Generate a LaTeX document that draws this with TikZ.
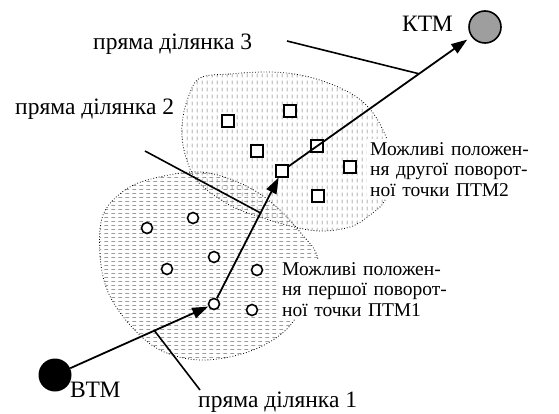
\documentclass[tikz,border=0pt]{standalone}
\usepackage{fontspec}
\setmainfont{Liberation Serif}
\usetikzlibrary{arrows.meta,positioning,patterns}

% short grey dashes for the two areas
\pgfdeclarepatternformonly{hdash}{\pgfqpoint{0pt}{0pt}}{\pgfqpoint{6.5pt}{4.3pt}}{\pgfqpoint{6.5pt}{4.3pt}}{%
  \pgfsetlinewidth{0.6pt}
  \pgfpathmoveto{\pgfqpoint{0.5pt}{2pt}}\pgfpathlineto{\pgfqpoint{4.5pt}{2pt}}
  \pgfusepath{stroke}}
\pgfdeclarepatternformonly{vdash}{\pgfqpoint{0pt}{0pt}}{\pgfqpoint{5pt}{6.5pt}}{\pgfqpoint{5pt}{6.5pt}}{%
  \pgfsetlinewidth{0.6pt}
  \pgfpathmoveto{\pgfqpoint{2.5pt}{0.8pt}}\pgfpathlineto{\pgfqpoint{2.5pt}{4.8pt}}
  \pgfusepath{stroke}}

\newcommand\jline[1]{\makebox[\linewidth][s]{#1}}

\begin{document}
\begin{tikzpicture}[x=1pt,y=-1pt,
    font=\fontsize{23.5}{25}\selectfont,
    area/.style={dotted,line width=0.8pt,pattern color=black!60},
    pt/.style={circle,draw,fill=white,line width=1.6pt,minimum size=11pt,inner sep=0pt},
    sq/.style={rectangle,draw,fill=white,line width=1.6pt,minimum size=11.5pt,inner sep=0pt},
    leg/.style={line width=1.8pt,-{Triangle[length=16pt,width=11pt]}},
    ptr/.style={line width=1.6pt},
    note/.style={fill=white,text width=187pt,inner sep=3pt,align=left,
      font=\fontsize{19.5}{20.5}\selectfont}]
  \useasboundingbox (0,0) rectangle (559,414);

  % areas of possible turning points
  \draw[area,pattern=vdash] plot[smooth cycle,tension=0.6] coordinates {
    (200,78) (230,74) (270,72) (305,76) (338,87) (363,102) (381,126) (392,160)
    (386,198) (370,215) (350,227) (320,231) (290,226) (260,217) (233,207)
    (207,190) (193,175) (184,150) (182,125) (188,98)};
  \draw[area,pattern=hdash] plot[smooth cycle,tension=0.6] coordinates {
    (103,215) (125,190) (155,178) (200,172) (240,183) (272,203) (300,232)
    (318,262) (300,310) (280,335) (245,353) (200,360) (160,350) (130,325)
    (108,292) (100,255)};

  % start and end points
  \node[circle,fill=black,minimum size=33pt,inner sep=0pt] (btm) at (55,375) {};
  \node[circle,draw,fill=black!38,line width=1.6pt,minimum size=32pt,inner sep=0pt] (ktm) at (485,27) {};
  \node[anchor=base west,inner sep=0pt] (btmlbl) at (70,397) {ВТМ};
  \node[anchor=base west,inner sep=0pt] (ktmlbl) at (402,32) {КТМ};

  % first turning point
  \node[pt] (c1) at (147,228) {};
  \node[pt] (c2) at (193,218) {};
  \node[pt] (c3) at (214,257) {};
  \node[pt] (c4) at (167,269) {};
  \node[pt] (c5) at (257,270) {};
  \node[pt] (c6) at (252,310) {};
  \node[pt] (t1) at (214,304) {};

  % second turning point
  \node[sq] (q1) at (228,121) {};
  \node[sq] (q2) at (290,111) {};
  \node[sq] (q3) at (257,151) {};
  \node[sq] (q4) at (317,146) {};
  \node[sq] (q5) at (350,167) {};
  \node[sq] (q6) at (318,196) {};
  \node[sq] (t2) at (282,171) {};

  % route
  \draw[leg] (btm) -- (t1);
  \draw[leg] (t1) -- (t2);
  \draw[leg,shorten >=5pt] (t2) -- (ktm);

  \path (btm) -- (t1) coordinate[pos=0.61] (s1);
  \path (t1) -- (t2) coordinate[pos=0.707] (s2);
  \path (t2) -- (ktm) coordinate[pos=0.714] (s3);

  % straight segments
  \node[anchor=base west,inner sep=0pt] (lbl1) at (198,407) {пряма ділянка 1};
  \node[anchor=base west,inner sep=0pt] (lbl2) at (15,115) {пряма ділянка 2};
  \node[anchor=base west,inner sep=0pt] (lbl3) at (93,50) {пряма ділянка 3};
  \coordinate (e1) at (200,390);
  \coordinate (e2) at (145,151);
  \coordinate (e3) at (287,41);
  \draw[ptr] (s1) -- (e1);
  \draw[ptr] (s2) -- (e2);
  \draw[ptr] (s3) -- (e3);

  % notes
  \node[note,anchor=north west] (note1) at (279,259) {\jline{Можливі положен-}\\
    \jline{ня першої поворот-}\\ ної точки ПТМ1};
  \node[note,anchor=north west] (note2) at (367,139) {\jline{Можливі положен-}\\
    \jline{ня другої поворот-}\\ ної точки ПТМ2};
\end{tikzpicture}
\end{document}
